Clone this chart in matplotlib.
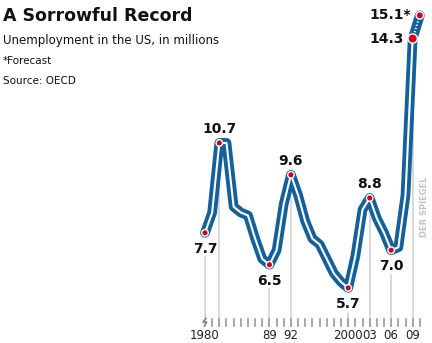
import matplotlib.pyplot as plt
import numpy as np

years = np.arange(1980, 2011)
jobless = [7.6, 8.3, 10.7, 10.7, 8.5, 8.3, 8.2, 7.4, 6.7, 6.5,
           7.0, 8.6, 9.6, 8.9, 8.0, 7.4, 7.2, 6.7, 6.2, 5.9,
           5.7, 6.8, 8.4, 8.8, 8.1, 7.6, 7.0, 7.1, 8.9, 14.3, 15.1]

mark_years = [1980, 1982, 1989, 1992, 2000, 2003, 2006, 2009, 2010]
mark_text = ['7.7', '10.7', '6.5', '9.6', '5.7', '8.8', '7.0', '14.3', '15.1*']
mark_pos = ['below', 'above', 'below', 'above', 'below', 'above', 'below', 'left', 'left']

tick_years = [1980, 1989, 1992, 2000, 2003, 2006, 2009]
tick_text = ['1980', '89', '92', '2000', '03', '06', '09']

blue = '#14609b'
red = '#d0021b'
grey_line = '#d6d6d6'

fam = ['DejaVu Sans']

fig = plt.figure(figsize=(4.32, 3.43), dpi=100)
ax = fig.add_axes([0, 0, 1, 1])
ax.set_xlim(1951.37, 2011.70)
ax.set_ylim(3.80, 15.63)
ax.axis('off')

val = dict(zip(years, jobless))
base = 4.40

# grey drop lines from labelled points to the axis
for y, p in zip(mark_years, mark_pos):
    if y == 2010:
        continue
    top = val[y]
    if p == 'below':
        top = val[y] - 0.85
    ax.plot([y, y], [base, top], color=grey_line, lw=1.3, zorder=1)

# small ticks for every year
for y in years[1:]:
    ax.plot([y, y], [base, 4.62], color='#9a9a9a', lw=1.2, zorder=1)
# axis break symbol at 1980
ax.plot([1980.15, 1979.7, 1980.25, 1979.9], [4.65, 4.52, 4.52, 4.38],
        color='#777777', lw=1.0, zorder=1)

# the tube line
ax.plot(years, jobless, color=blue, lw=7.0, solid_joinstyle='round',
        solid_capstyle='round', zorder=2)
ax.plot(years[:-1], jobless[:-1], color='white', lw=1.5,
        solid_joinstyle='round', zorder=3)
ax.plot(years[-2:], jobless[-2:], color='white', lw=1.5,
        linestyle=(0, (0.6, 1.0)), zorder=3)

mv = [val[y] for y in mark_years]
sizes = [22] * 7 + [45, 28]
ax.scatter(mark_years, mv, s=sizes, color=red, edgecolor='white',
           linewidth=1.0, zorder=4)

for y, t, p in zip(mark_years, mark_text, mark_pos):
    if p == 'below':
        off, ha = (0, -16), 'center'
    elif p == 'above':
        off, ha = (0, 14), 'center'
    else:
        off, ha = (-9, 0), 'right'
    ax.annotate(t, (y, val[y]), xytext=off, textcoords='offset pixels',
                ha=ha, va='center', fontsize=10, fontweight='bold',
                family=fam, color='#111111', zorder=5)

for y, t in zip(tick_years, tick_text):
    ax.text(y, 4.05, t, ha='center', va='center', fontsize=8.5,
            family=fam, color='#222222')

ax.text(2010.6, 8.5, 'DER SPIEGEL', rotation=90, ha='center', va='center',
        fontsize=6, fontweight='bold', color='#c4c4c4', family=fam)

fig.text(0.007, 0.953, 'A Sorrowful Record', fontsize=12.5, fontweight='heavy',
         family=fam, color='#111111', va='center', ha='left')
fig.text(0.007, 0.883, 'Unemployment in the US, in millions', fontsize=8.5,
         family=fam, color='#111111', va='center', ha='left')
fig.text(0.007, 0.821, '*Forecast', fontsize=7.5, family=fam,
         color='#111111', va='center', ha='left')
fig.text(0.007, 0.763, 'Source: OECD', fontsize=7.5, family=fam,
         color='#111111', va='center', ha='left')

fig.savefig('out.png', dpi=100)
